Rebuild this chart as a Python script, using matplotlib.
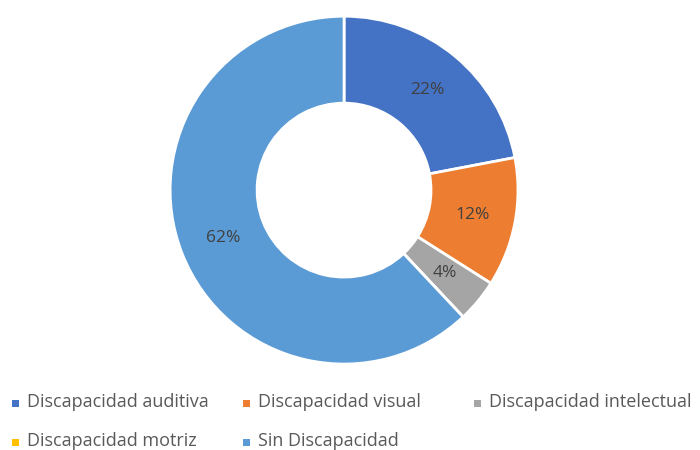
import matplotlib
matplotlib.use("Agg")
import matplotlib.pyplot as plt
from matplotlib.patches import Rectangle

categories = ["Discapacidad auditiva", "Discapacidad visual", "Discapacidad intelectual",
              "Discapacidad motriz", "Sin Discapacidad"]
values = [22, 12, 4, 0, 62]
colors = ["#4472C4", "#ED7D31", "#A5A5A5", "#FFC000", "#5B9BD5"]

plt.rcParams["font.family"] = ["Open Sans", "DejaVu Sans"]

fig = plt.figure(figsize=(7, 4.5), dpi=100)
ax = fig.add_axes([0.243, 0.191, 0.497, 0.773])

wedges, texts, autotexts = ax.pie(
    values, colors=colors, startangle=90, counterclock=False,
    wedgeprops=dict(width=0.5, edgecolor="white", linewidth=2),
    autopct=lambda p: f"{p:.0f}%" if p > 0 else "",
    pctdistance=0.75, textprops=dict(color="#404040", fontsize=12.5))
ax.set_xlim(-1, 1)
ax.set_ylim(-1, 1)
ax.set_aspect("equal")

# legend laid out like Excel: 3 columns of equal width, row by row
for i, (lab, col) in enumerate(zip(categories, colors)):
    x = 15 + 231 * (i % 3)
    y = 402 + 39 * (i // 3)
    fig.patches.append(Rectangle(((x - 3) / 700, 1 - (y + 5) / 450), 7 / 700, 7 / 450,
                                 transform=fig.transFigure, facecolor=col, edgecolor="none"))
    fig.text((x + 12) / 700, 1 - y / 450, lab, fontsize=13, color="#595959",
             va="center", ha="left")

fig.savefig("out.png", dpi=100)
